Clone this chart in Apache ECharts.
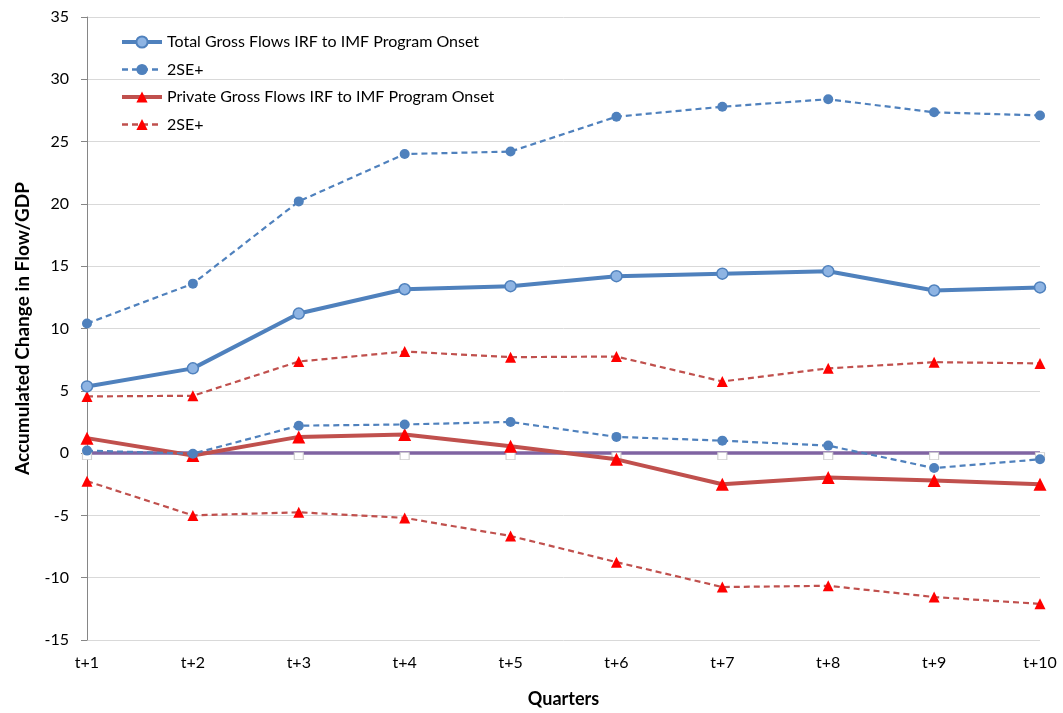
<!DOCTYPE html>
<html><head><meta charset="utf-8">
<script src="https://cdn.jsdelivr.net/npm/echarts@6/dist/echarts.min.js"></script>
<style>html,body{margin:0;padding:0;background:#fff}#c{width:1063px;height:713px}</style>
</head><body><div id="c"></div>
<script>
const categories = ['t+1','t+2','t+3','t+4','t+5','t+6','t+7','t+8','t+9','t+10'];
const totalIRF = [5.35, 6.8, 11.2, 13.15, 13.4, 14.2, 14.4, 14.6, 13.05, 13.3];
const totalUpper = [10.4, 13.6, 20.2, 24.0, 24.2, 27.0, 27.8, 28.4, 27.35, 27.1];
const totalLower = [0.2, -0.05, 2.2, 2.3, 2.5, 1.3, 1.0, 0.6, -1.2, -0.5];
const privateIRF = [1.2, -0.2, 1.3, 1.5, 0.55, -0.5, -2.5, -1.95, -2.2, -2.5];
const privateUpper = [4.55, 4.6, 7.35, 8.15, 7.7, 7.75, 5.75, 6.8, 7.3, 7.2];
const privateLower = [-2.25, -5.0, -4.75, -5.2, -6.65, -8.75, -10.75, -10.65, -11.55, -12.1];
const zeroLine = [0,0,0,0,0,0,0,0,0,0];
const names = ['Total Gross Flows IRF to IMF Program Onset','2SE+','Private Gross Flows IRF to IMF Program Onset','2SE+ '];

const FONT = 'Lato, "Open Sans", sans-serif';
const blue = '#4F81BD', red = '#C0504D';
const chart = echarts.init(document.getElementById('c'), null, {renderer:'canvas'});
chart.setOption({
  animation:false,
  textStyle:{fontFamily:FONT},
  grid:{left:87, right:23, top:17, bottom:72, containLabel:false},
  legend:{
    orient:'vertical', left:120, top:34, padding:0, itemWidth:40, itemHeight:14, itemGap:11.5,
    textStyle:{fontFamily:FONT, fontSize:16, color:'#000'},
    data:[
      {name:names[0], lineStyle:{width:4}},
      {name:names[1], lineStyle:{width:2.5}},
      {name:names[2], lineStyle:{width:4}},
      {name:names[3], lineStyle:{width:2.5}}
    ]
  },
  xAxis:{
    type:'category', data:categories, boundaryGap:false,
    name:'Quarters', nameLocation:'middle', nameGap:50,
    nameTextStyle:{fontFamily:FONT, fontWeight:'bold', fontSize:18, color:'#000'},
    axisLine:{lineStyle:{color:'#868686', width:1}},
    axisTick:{show:true, alignWithLabel:true, length:6, lineStyle:{color:'#868686'}},
    axisLabel:{fontFamily:FONT, fontSize:16, color:'#000', margin:15},
    splitLine:{show:false}
  },
  yAxis:{
    type:'value', min:-15, max:35, interval:5,
    name:'Accumulated Change in Flow/GDP', nameLocation:'middle', nameGap:55, nameRotate:90,
    nameTextStyle:{fontFamily:FONT, fontWeight:'bold', fontSize:19, color:'#000'},
    axisLine:{show:true, lineStyle:{color:'#868686', width:1}},
    axisTick:{show:true, length:6, lineStyle:{color:'#868686'}},
    axisLabel:{fontFamily:FONT, fontSize:16, color:'#000', margin:18},
    splitLine:{show:true, lineStyle:{color:'#D9D9D9', width:1}}
  },
  series:[
    {name:'zero', type:'line', data:zeroLine, z:1, symbol:'rect', symbolSize:[9,7], symbolOffset:[0,3],
      itemStyle:{color:'#fff', borderColor:'#d0d0d0', borderWidth:1},
      lineStyle:{color:'#8064A2', width:3.5}},
    {name:names[2], type:'line', data:privateIRF, z:3, symbol:'triangle', symbolSize:13,
      itemStyle:{color:'#FF0000'}, lineStyle:{color:red, width:4}},
    {name:names[3], type:'line', data:privateUpper, z:3, symbol:'triangle', symbolSize:11,
      itemStyle:{color:'#FF0000'}, lineStyle:{color:red, width:2.2, type:[6,4]}},
    {name:names[3], type:'line', data:privateLower, z:3, symbol:'triangle', symbolSize:11,
      itemStyle:{color:'#FF0000'}, lineStyle:{color:red, width:2.2, type:[6,4]}},
    {name:names[0], type:'line', data:totalIRF, z:4, symbol:'circle', symbolSize:11,
      itemStyle:{color:'#8EB4E3', borderColor:blue, borderWidth:1.5}, lineStyle:{color:blue, width:4}},
    {name:names[1], type:'line', data:totalUpper, z:4, symbol:'circle', symbolSize:10,
      itemStyle:{color:blue}, lineStyle:{color:blue, width:2.2, type:[6,4]}},
    {name:names[1], type:'line', data:totalLower, z:4, symbol:'circle', symbolSize:10,
      itemStyle:{color:blue}, lineStyle:{color:blue, width:2.2, type:[6,4]}}
  ]
});
</script></body></html>
